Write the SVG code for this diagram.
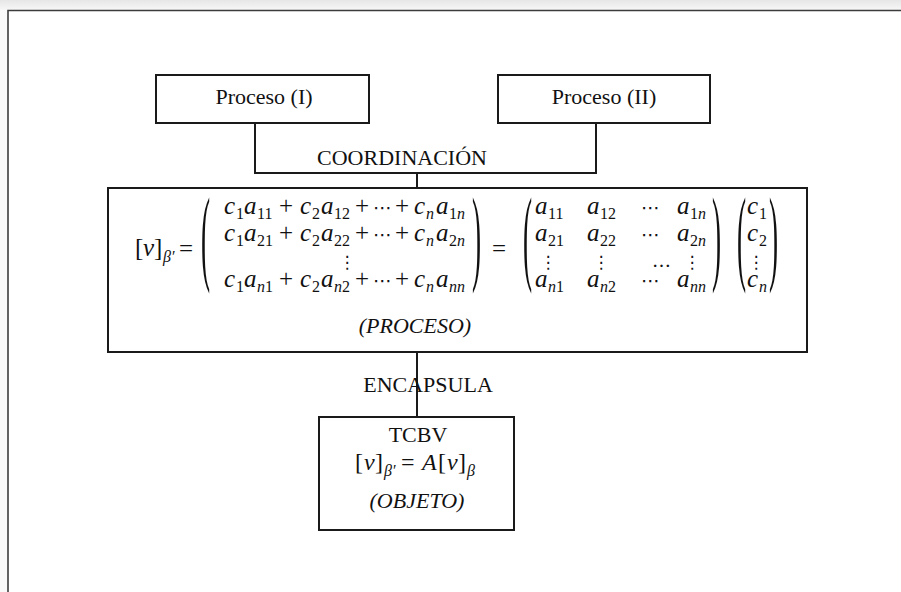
<svg xmlns="http://www.w3.org/2000/svg" width="901" height="592" viewBox="0 0 901 592">
<defs>
<linearGradient id="shade" x1="0" y1="0" x2="0" y2="1">
<stop offset="0" stop-color="#e6e6e6"/>
<stop offset="1" stop-color="#f7f7f7"/>
</linearGradient>
</defs>
<style>
.box{fill:#fff;stroke:#1a1a1a;stroke-width:2}
.con{fill:none;stroke:#1a1a1a;stroke-width:2}
.t{font-family:"Liberation Serif","Times New Roman",serif;font-size:22px;fill:#111}
.ti{font-family:"Liberation Serif","Times New Roman",serif;font-size:22px;font-style:italic;fill:#111}
.m{font-family:"Liberation Serif","Times New Roman",serif;font-size:25px;font-style:italic;fill:#111}
.mu{font-family:"Liberation Serif","Times New Roman",serif;font-size:25px;font-style:normal;fill:#111}
.s{font-family:"Liberation Serif","Times New Roman",serif;font-size:16px;font-style:normal;fill:#111}
.si{font-family:"Liberation Serif","Times New Roman",serif;font-size:16px;font-style:italic;fill:#111}
.dots{font-family:"DejaVu Serif","DejaVu Sans",serif;font-size:19px;fill:#111}
.vd{font-family:"DejaVu Sans",sans-serif;font-size:17px;fill:#111;text-anchor:middle}
.par{font-family:"Liberation Serif","Times New Roman",serif;font-size:105px;fill:#111}
</style>
<rect x="0" y="0" width="901" height="10" fill="url(#shade)"/>
<rect x="0" y="10" width="7" height="582" fill="#f9f9f9"/>
<path d="M8 592V10.5H901" fill="none" stroke="#3c3c3c" stroke-width="1.6"/>

<g id="connectors">
<path class="con" d="M255 123V173H596V123"/>
<path class="con" d="M417 173V188"/>
<path class="con" d="M417 352V417"/>
<text class="t" x="402" y="165" text-anchor="middle">COORDINACIÓN</text>
<text class="t" x="428" y="392" text-anchor="middle">ENCAPSULA</text>
</g>

<g id="proceso1">
<rect class="box" x="156" y="75" width="213" height="48"/>
<text class="t" x="264" y="104" text-anchor="middle">Proceso (I)</text>
</g>

<g id="proceso2">
<rect class="box" x="498" y="75" width="212" height="48"/>
<text class="t" x="604" y="104" text-anchor="middle">Proceso (II)</text>
</g>

<g id="proceso">
<rect class="box" x="108" y="188" width="699" height="164"/>
<text class="mu" x="135" y="256">[</text>
<text class="m" x="143" y="256">v</text>
<text class="mu" x="154" y="256">]</text>
<text class="si" x="163" y="262">β′</text>
<text class="mu" x="179" y="257">=</text>
<text class="par" transform="translate(201,271) scale(0.26,1)">(</text>
<text class="par" transform="translate(472,271) scale(0.26,1)">)</text>
<g>
<text class="m" x="224" y="214">c</text><text class="s" x="236" y="219">1</text>
<text class="m" x="244" y="214">a</text><text class="s" x="257" y="219">11</text>
<text class="mu" x="279" y="214">+</text>
<text class="m" x="300" y="214">c</text><text class="s" x="312" y="219">2</text>
<text class="m" x="321" y="214">a</text><text class="s" x="334" y="219">12</text>
<text class="mu" x="355" y="214">+</text>
<text class="dots" x="373" y="214">⋯</text>
<text class="mu" x="395" y="214">+</text>
<text class="m" x="414" y="214">c</text><text class="si" x="426" y="219">n</text>
<text class="m" x="436" y="214">a</text><text class="s" x="449" y="219">1<tspan class="si">n</tspan></text>
</g>
<g>
<text class="m" x="224" y="241">c</text><text class="s" x="236" y="246">1</text>
<text class="m" x="244" y="241">a</text><text class="s" x="257" y="246">21</text>
<text class="mu" x="279" y="241">+</text>
<text class="m" x="300" y="241">c</text><text class="s" x="312" y="246">2</text>
<text class="m" x="321" y="241">a</text><text class="s" x="334" y="246">22</text>
<text class="mu" x="355" y="241">+</text>
<text class="dots" x="373" y="241">⋯</text>
<text class="mu" x="395" y="241">+</text>
<text class="m" x="414" y="241">c</text><text class="si" x="426" y="246">n</text>
<text class="m" x="436" y="241">a</text><text class="s" x="449" y="246">2<tspan class="si">n</tspan></text>
</g>
<text class="vd" x="347" y="268">⋮</text>
<g>
<text class="m" x="224" y="287">c</text><text class="s" x="236" y="292">1</text>
<text class="m" x="244" y="287">a</text><text class="si" x="257" y="292">n<tspan class="s">1</tspan></text>
<text class="mu" x="279" y="287">+</text>
<text class="m" x="300" y="287">c</text><text class="s" x="312" y="292">2</text>
<text class="m" x="321" y="287">a</text><text class="si" x="334" y="292">n<tspan class="s">2</tspan></text>
<text class="mu" x="355" y="287">+</text>
<text class="dots" x="373" y="287">⋯</text>
<text class="mu" x="395" y="287">+</text>
<text class="m" x="414" y="287">c</text><text class="si" x="426" y="292">n</text>
<text class="m" x="436" y="287">a</text><text class="si" x="449" y="292">nn</text>
</g>
<text class="mu" x="492" y="257">=</text>
<text class="par" transform="translate(523,271) scale(0.26,1)">(</text>
<text class="par" transform="translate(712,271) scale(0.26,1)">)</text>
<g>
<text class="m" x="535" y="214">a</text><text class="s" x="548" y="219">11</text>
<text class="m" x="587" y="214">a</text><text class="s" x="600" y="219">12</text>
<text class="dots" x="641" y="214">⋯</text>
<text class="m" x="677" y="214">a</text><text class="s" x="690" y="219">1<tspan class="si">n</tspan></text>
<text class="m" x="535" y="241">a</text><text class="s" x="548" y="246">21</text>
<text class="m" x="587" y="241">a</text><text class="s" x="600" y="246">22</text>
<text class="dots" x="641" y="241">⋯</text>
<text class="m" x="677" y="241">a</text><text class="s" x="690" y="246">2<tspan class="si">n</tspan></text>
<text class="vd" x="548" y="268">⋮</text>
<text class="vd" x="601" y="268">⋮</text>
<text class="dots" x="652" y="267">…</text>
<text class="vd" x="692" y="268">⋮</text>
<text class="m" x="535" y="287">a</text><text class="si" x="548" y="292">n<tspan class="s">1</tspan></text>
<text class="m" x="587" y="287">a</text><text class="si" x="600" y="292">n<tspan class="s">2</tspan></text>
<text class="dots" x="641" y="287">⋯</text>
<text class="m" x="677" y="287">a</text><text class="si" x="690" y="292">nn</text>
</g>
<text class="par" transform="translate(737,271) scale(0.26,1)">(</text>
<text class="par" transform="translate(769,271) scale(0.26,1)">)</text>
<g>
<text class="m" x="747" y="214">c</text><text class="s" x="759" y="219">1</text>
<text class="m" x="747" y="241">c</text><text class="s" x="759" y="246">2</text>
<text class="vd" x="756" y="268">⋮</text>
<text class="m" x="747" y="287">c</text><text class="si" x="759" y="292">n</text>
</g>
<text class="ti" x="415" y="333" text-anchor="middle">(PROCESO)</text>
</g>

<g id="objeto">
<rect class="box" x="319" y="417" width="195" height="113"/>
<text class="t" x="418" y="442" text-anchor="middle">TCBV</text>
<text class="mu" x="355" y="470" style="font-size:24px">[</text>
<text class="m" x="364" y="470" style="font-size:24px">v</text>
<text class="mu" x="375" y="470" style="font-size:24px">]</text>
<text class="si" x="384" y="476">β′</text>
<text class="mu" x="401" y="470" style="font-size:24px">=</text>
<text class="m" x="422" y="470" style="font-size:24px">A</text>
<text class="mu" x="438" y="470" style="font-size:24px">[</text>
<text class="m" x="447" y="470" style="font-size:24px">v</text>
<text class="mu" x="458" y="470" style="font-size:24px">]</text>
<text class="si" x="467" y="476">β</text>
<text class="ti" x="417" y="508" text-anchor="middle">(OBJETO)</text>
</g>
</svg>
